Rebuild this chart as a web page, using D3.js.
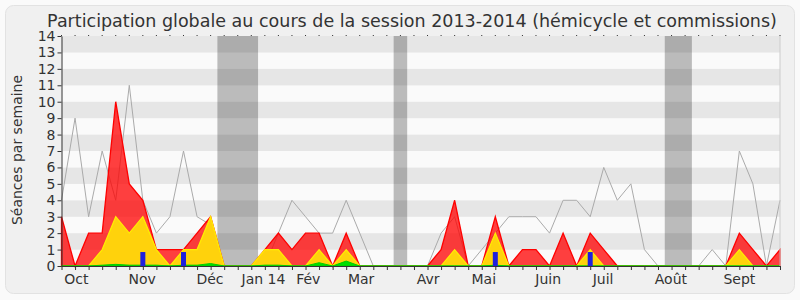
<!DOCTYPE html>
<html lang="fr">
<head>
  <meta charset="UTF-8">
  <title>Participation globale 2013-2014</title>
  <script src="https://d3js.org/d3.v7.min.js"></script>
  <style>
    body { margin: 0; background: #fafafa; font-family: 'DejaVu Sans', sans-serif; }
    .tick-label { font-size: 14px; fill: #333; }
  </style>
</head>
<body>
  <svg id="chart" width="800" height="300"></svg>
  <script>
    // Données par semaine (54 semaines, d'octobre 2013 à septembre 2014)
    const totalSeances = [3, 0, 2, 2, 10, 5, 4, 1, 1, 1, 2, 3, 0, 0, 0, 1, 2, 1, 2, 2, 0, 2, 0, 0, 0, 0, 0, 0,
      1, 4, 0, 0, 3, 0, 1, 1, 0, 2, 0, 2, 1, 0, 0, 0, 0, 0, 0, 0, 0, 0, 2, 1, 0, 1];
    const hemicycle = [0, 0, 0, 1, 3, 2, 3, 1, 0, 1, 1, 3, 0, 0, 0, 1, 1, 0, 0, 1, 0, 1, 0, 0, 0, 0, 0, 0,
      0, 1, 0, 0, 2, 0, 0, 0, 0, 0, 0, 1, 0, 0, 0, 0, 0, 0, 0, 0, 0, 0, 1, 0, 0, 0];
    const interventions = [0, 0, 0, 0.05, 0.1, 0.05, 0.05, 0.05, 0, 0.05, 0.05, 0.15, 0, 0, 0, 0.05, 0.05, 0, 0, 0.2, 0, 0.3, 0, 0, 0, 0, 0, 0,
      0, 0, 0, 0, 0.05, 0, 0, 0, 0, 0, 0, 0, 0, 0, 0, 0, 0, 0, 0, 0, 0, 0, 0, 0, 0, 0];
    const mediane = [4, 9, 3, 7, 4, 11, 4, 2, 3, 7, 3, 2.5, 0, 0, 0, 0, 2, 4, 3, 2, 2, 4, 2, 0, 0, 0, 0, 0,
      2, 3, 0, 1, 2, 3, 3, 3, 2, 4, 4, 3, 6, 4, 5, 1, 0, 0, 0, 0, 1, 0, 7, 5, 0, 4];
    const questionsSemaines = [6, 9, 32, 39];
    const questionsValeurs = [0.85, 0.85, 0.85, 0.85];
    const vacancesDebut = [11.5, 24.5, 44.5];
    const vacancesFin = [14.5, 25.5, 46.5];
    const moisLabels = ["Oct", "Nov", "Déc", "Jan 14", "Fév", "Mar", "Avr", "Mai", "Juin", "Juil", "Août", "Sept"];
    const moisPositions = [1.1, 5.95, 10.95, 14.9, 18.2, 22.1, 27.05, 31.15, 35.9, 39.95, 44.95, 50];
    const yTicks = d3.range(0, 15);

    const svg = d3.select("#chart");
    const plotLeft = 61.5, plotRight = 780, plotTop = 36, plotBottom = 266;

    const x = d3.scaleLinear().domain([0, totalSeances.length - 1]).range([plotLeft, plotRight]);
    const y = d3.scaleLinear().domain([0, 14]).range([plotBottom, plotTop]);

    // fond
    svg.append("rect")
      .attr("x", 5.5).attr("y", 5.5).attr("width", 789).attr("height", 288)
      .attr("rx", 8).attr("fill", "#f0f0f0").attr("stroke", "#e2e2e2");

    // titre
    svg.append("text")
      .attr("x", 412).attr("y", 27)
      .attr("text-anchor", "middle")
      .style("font-size", "17.5px").style("fill", "#333")
      .text("Participation globale au cours de la session 2013-2014 (hémicycle et commissions)");

    // bandes horizontales
    svg.append("g").selectAll("rect")
      .data(d3.range(0, 14))
      .join("rect")
      .attr("x", plotLeft).attr("width", plotRight - plotLeft)
      .attr("y", d => y(d + 1)).attr("height", d => y(d) - y(d + 1))
      .attr("fill", d => d % 2 === 1 ? "#e6e6e6" : "#fafafa");

    // vacances parlementaires
    svg.append("g").selectAll("rect")
      .data(vacancesDebut)
      .join("rect")
      .attr("x", d => x(d))
      .attr("width", (d, i) => x(vacancesFin[i]) - x(d))
      .attr("y", plotTop).attr("height", plotBottom - plotTop)
      .attr("fill", "#000").attr("fill-opacity", 0.25);

    // ligne médiane (gris)
    svg.append("path")
      .datum(mediane)
      .attr("fill", "none").attr("stroke", "#aaa").attr("stroke-width", 1)
      .attr("d", d3.line().x((d, i) => x(i)).y(d => y(d)));

    const area = d3.area().x((d, i) => x(i)).y0(y(0)).y1(d => y(d));

    svg.append("path").datum(totalSeances)
      .attr("fill", "#ff0000").attr("fill-opacity", 0.75)
      .attr("stroke", "#ff0000").attr("stroke-width", 1.3)
      .attr("d", area);

    svg.append("path").datum(hemicycle)
      .attr("fill", "#ffd20c")
      .attr("stroke", "#ffee00").attr("stroke-width", 1.2)
      .attr("d", area);

    svg.append("path").datum(interventions)
      .attr("fill", "#00e000")
      .attr("stroke", "#00cc00").attr("stroke-width", 1)
      .attr("d", area);

    // questions orales
    svg.append("g").selectAll("rect")
      .data(questionsSemaines)
      .join("rect")
      .attr("x", d => x(d) - 2.5).attr("width", 5)
      .attr("y", (d, i) => y(questionsValeurs[i]))
      .attr("height", (d, i) => y(0) - y(questionsValeurs[i]))
      .attr("fill", "#2020dd");

    // bord droit
    svg.append("line")
      .attr("x1", plotRight).attr("x2", plotRight).attr("y1", plotTop).attr("y2", plotBottom)
      .attr("stroke", "#ccc");

    // axe Y
    const yAxis = svg.append("g")
      .attr("transform", `translate(${plotLeft},0)`)
      .call(d3.axisLeft(y).tickValues(yTicks).tickSize(4).tickSizeOuter(0).tickPadding(2));
    yAxis.select(".domain").attr("stroke", "#333");
    yAxis.selectAll(".tick line").attr("stroke", "#333");
    yAxis.attr("font-family", null).attr("font-size", null);
    yAxis.selectAll("text").attr("class", "tick-label");

    // axe X (semaines)
    const xAxis = svg.append("g")
      .attr("transform", `translate(0,${plotBottom})`)
      .call(d3.axisBottom(x).tickValues(d3.range(0, totalSeances.length)).tickSize(4).tickSizeOuter(0).tickFormat(""));
    xAxis.select(".domain").attr("stroke", "#333");
    xAxis.selectAll(".tick line").attr("stroke", "#333");

    // petites marques en haut
    svg.append("g").selectAll("line")
      .data(d3.range(0, totalSeances.length))
      .join("line")
      .attr("x1", d => x(d)).attr("x2", d => x(d))
      .attr("y1", plotTop - 1).attr("y2", plotTop)
      .attr("stroke", "#333");

    // mois
    svg.append("g").selectAll("text")
      .data(moisLabels)
      .join("text")
      .attr("class", "tick-label")
      .attr("x", (d, i) => x(moisPositions[i]))
      .attr("y", 284)
      .attr("text-anchor", "middle")
      .text(d => d);

    // titre axe Y
    svg.append("text")
      .attr("transform", "translate(22,150) rotate(-90)")
      .attr("text-anchor", "middle")
      .style("font-size", "14px").style("fill", "#333")
      .text("Séances par semaine");
  </script>
</body>
</html>
